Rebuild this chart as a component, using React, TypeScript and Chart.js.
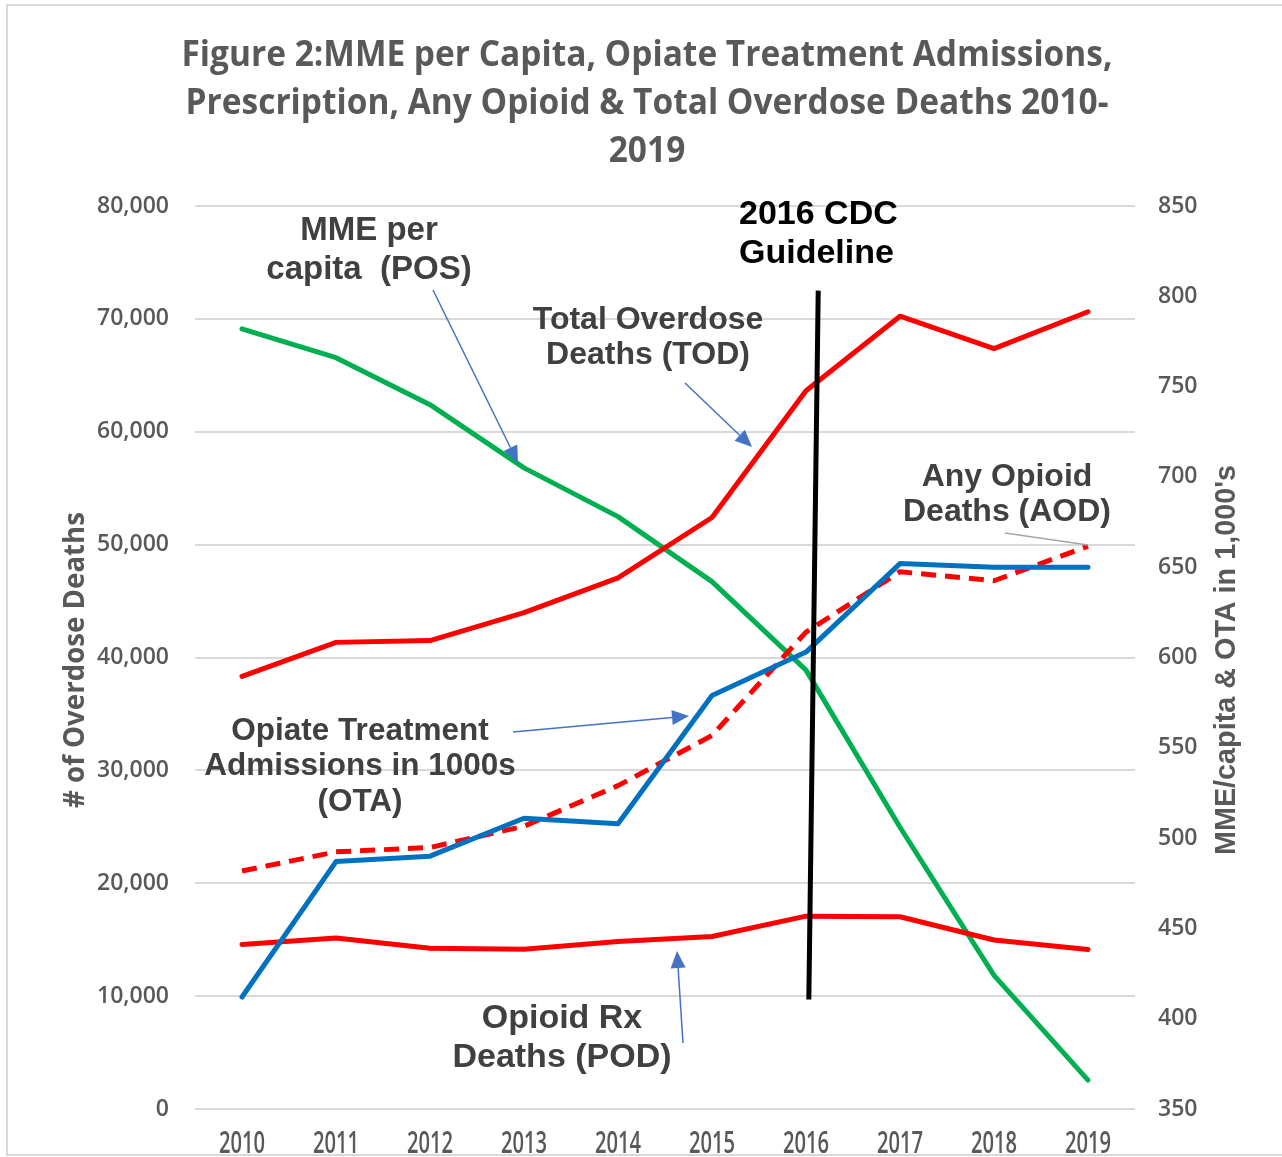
import React, { useEffect, useRef } from "react";
import { Chart, registerables } from "chart.js";

Chart.register(...registerables);

// ---------- data ----------
const years = ["2010", "2011", "2012", "2013", "2014", "2015", "2016", "2017", "2018", "2019"];
const totalOverdoseDeaths = [38329, 41340, 41502, 43982, 47055, 52404, 63632, 70237, 67367, 70630];
const anyOpioidDeaths = [21089, 22784, 23166, 25052, 28647, 33091, 42249, 47600, 46802, 49860];
const rxOpioidDeaths = [14583, 15140, 14240, 14145, 14838, 15281, 17087, 17029, 14975, 14139];
const mmePerCapita = [782, 766, 740, 705, 678, 642, 593, 506, 424, 366];
const treatmentAdmissionsThousands = [412, 487, 490, 511, 508, 579, 603, 652, 650, 650];
const guidelineX = [6.13, 6.03];
const guidelineY = [72500, 9700];

const leftTicks = [0, 10000, 20000, 30000, 40000, 50000, 60000, 70000, 80000];
const rightTicks = [350, 400, 450, 500, 550, 600, 650, 700, 750, 800, 850];

const titleLines = [
  "Figure 2:MME per Capita, Opiate Treatment Admissions,",
  "Prescription, Any Opioid & Total Overdose Deaths 2010-",
  "2019",
];
const leftAxisTitle = "# of Overdose Deaths";
const rightAxisTitle = "MME/capita & OTA in 1,000's";

const labelMME = ["MME per", "capita  (POS)"];
const labelCDC = ["2016 CDC", "Guideline"];
const labelTOD = ["Total Overdose", "Deaths (TOD)"];
const labelAOD = ["Any Opioid", "Deaths (AOD)"];
const labelOTA = ["Opiate Treatment", "Admissions in 1000s", "(OTA)"];
const labelPOD = ["Opioid Rx", "Deaths (POD)"];

// ---------- helpers ----------
function drawText(
  ctx: CanvasRenderingContext2D,
  str: string,
  x: number,
  y: number,
  font: string,
  color: string,
  align: CanvasTextAlign,
  sx = 1
) {
  ctx.save();
  ctx.font = font;
  ctx.fillStyle = color;
  ctx.textBaseline = "alphabetic";
  ctx.textAlign = align;
  ctx.translate(x, y);
  ctx.scale(sx, 1);
  ctx.fillText(str, 0, 0);
  ctx.restore();
}

function drawArrow(
  ctx: CanvasRenderingContext2D,
  x1: number,
  y1: number,
  x2: number,
  y2: number,
  color: string,
  head = true
) {
  ctx.save();
  ctx.strokeStyle = color;
  ctx.fillStyle = color;
  ctx.lineWidth = 1.5;
  const ang = Math.atan2(y2 - y1, x2 - x1);
  const hl = head ? 17 : 0;
  const hw = 7.5;
  const bx = x2 - hl * Math.cos(ang);
  const by = y2 - hl * Math.sin(ang);
  ctx.beginPath();
  ctx.moveTo(x1, y1);
  ctx.lineTo(bx, by);
  ctx.stroke();
  if (head) {
    ctx.beginPath();
    ctx.moveTo(x2, y2);
    ctx.lineTo(bx + hw * Math.sin(ang), by - hw * Math.cos(ang));
    ctx.lineTo(bx - hw * Math.sin(ang), by + hw * Math.cos(ang));
    ctx.closePath();
    ctx.fill();
  }
  ctx.restore();
}

function drawRotated(
  ctx: CanvasRenderingContext2D,
  str: string,
  cx: number,
  cy: number,
  font: string,
  targetWidth: number
) {
  ctx.save();
  ctx.translate(cx, cy);
  ctx.rotate(-Math.PI / 2);
  ctx.font = font;
  const w = ctx.measureText(str).width;
  ctx.scale(targetWidth / w, 1);
  ctx.fillStyle = "#595959";
  ctx.textAlign = "center";
  ctx.textBaseline = "alphabetic";
  ctx.fillText(str, 0, 0);
  ctx.restore();
}

const overlayPlugin = {
  id: "overlay",
  beforeDraw(chart: any) {
    const ctx: CanvasRenderingContext2D = chart.ctx;
    ctx.save();
    ctx.fillStyle = "#ffffff";
    ctx.fillRect(0, 0, chart.width, chart.height);
    ctx.strokeStyle = "#d9d9d9";
    ctx.lineWidth = 2;
    ctx.beginPath();
    ctx.moveTo(chart.width, 5);
    ctx.lineTo(7, 5);
    ctx.lineTo(7, 1155);
    ctx.lineTo(chart.width, 1155);
    ctx.stroke();
    ctx.restore();
  },
  afterDraw(chart: any) {
    const ctx: CanvasRenderingContext2D = chart.ctx;

    // title
    const tFont = "bold 35px 'Open Sans'";
    ctx.save();
    ctx.font = tFont;
    const tsx = 931 / ctx.measureText(titleLines[0]).width;
    ctx.restore();
    const tBase = [66, 114, 162];
    titleLines.forEach((l, i) => drawText(ctx, l, 647, tBase[i], tFont, "#595959", "center", tsx));

    // x labels
    const xs = chart.scales.x;
    const yFont = "600 30px 'Open Sans'";
    ctx.save();
    ctx.font = yFont;
    const ysx = 46 / ctx.measureText("2010").width;
    ctx.restore();
    years.forEach((y, i) => {
      drawText(ctx, y, xs.getPixelForValue(i), 1153, yFont, "#595959", "center", ysx);
    });

    // axis titles
    drawRotated(ctx, leftAxisTitle, 84, 660, "bold 28px 'Open Sans'", 296);
    drawRotated(ctx, rightAxisTitle, 1235, 660, "bold 29px 'Liberation Sans'", 390);

    // annotations
    const bold = (s: number) => `bold ${s}px 'Liberation Sans'`;
    const dark = "#404040";
    drawText(ctx, labelMME[0], 369, 240, bold(33), dark, "center");
    drawText(ctx, labelMME[1], 369, 279, bold(33), dark, "center");
    drawText(ctx, labelCDC[0], 739, 224, bold(34), "#000000", "left");
    drawText(ctx, labelCDC[1], 739, 263, bold(34), "#000000", "left");
    drawText(ctx, labelTOD[0], 648, 329, bold(32), dark, "center");
    drawText(ctx, labelTOD[1], 648, 364, bold(32), dark, "center");
    drawText(ctx, labelAOD[0], 1007, 486, bold(32), dark, "center");
    drawText(ctx, labelAOD[1], 1007, 521, bold(32), dark, "center");
    drawText(ctx, labelOTA[0], 360, 740, bold(31.5), dark, "center");
    drawText(ctx, labelOTA[1], 360, 775, bold(31.5), dark, "center");
    drawText(ctx, labelOTA[2], 360, 811, bold(31.5), dark, "center");
    drawText(ctx, labelPOD[0], 562, 1028, bold(34), dark, "center");
    drawText(ctx, labelPOD[1], 562, 1067, bold(34), dark, "center");

    // arrows
    const blue = "#4472C4";
    drawArrow(ctx, 433, 290, 518, 463, blue);
    drawArrow(ctx, 685, 383, 752, 447, blue);
    drawArrow(ctx, 513, 732, 689, 716, blue);
    drawArrow(ctx, 683, 1043, 677, 951, blue);
    drawArrow(ctx, 1005, 533, 1088, 545, "#a6a6a6", false);
  },
};

export default function App() {
  const ref = useRef<HTMLCanvasElement | null>(null);

  useEffect(() => {
    if (!ref.current) return;
    const lineBase = {
      type: "line" as const,
      borderWidth: 5,
      pointRadius: 0,
      pointHoverRadius: 0,
      fill: false,
      tension: 0,
      borderJoinStyle: "round" as const,
      borderCapStyle: "round" as const,
    };
    const tickFont = { family: "'Open Sans'", size: 23, weight: "600" as const };
    const chart = new Chart(ref.current, {
      type: "line",
      data: {
        labels: years,
        datasets: [
          {
            ...lineBase,
            label: "2016 CDC Guideline",
            xAxisID: "x2",
            yAxisID: "y",
            data: guidelineX.map((x, i) => ({ x, y: guidelineY[i] })),
            borderColor: "#000000",
            borderCapStyle: "butt" as const,
            borderWidth: 5,
          } as any,
          {
            ...lineBase,
            label: "Total Overdose Deaths (TOD)",
            yAxisID: "y",
            data: totalOverdoseDeaths,
            borderColor: "#FF0000",
          },
          {
            ...lineBase,
            label: "Opiate Treatment Admissions (OTA)",
            yAxisID: "y1",
            data: treatmentAdmissionsThousands,
            borderColor: "#0070C0",
          },
          {
            ...lineBase,
            label: "Any Opioid Deaths (AOD)",
            yAxisID: "y",
            data: anyOpioidDeaths,
            borderColor: "#FF0000",
            borderDash: [15, 9],
            borderCapStyle: "butt" as const,
          },
          {
            ...lineBase,
            label: "Opioid Rx Deaths (POD)",
            yAxisID: "y",
            data: rxOpioidDeaths,
            borderColor: "#FF0000",
          },
          {
            ...lineBase,
            label: "MME per capita (POS)",
            yAxisID: "y1",
            data: mmePerCapita,
            borderColor: "#00B050",
          },
        ],
      },
      options: {
        responsive: false,
        animation: false,
        devicePixelRatio: 1,
        layout: { padding: { top: 206, bottom: 48, left: 0, right: 0 } },
        plugins: {
          legend: { display: false },
          tooltip: { enabled: false },
          title: { display: false },
        },
        events: [],
        scales: {
          x: {
            type: "category",
            display: false,
            offset: true,
          },
          x2: {
            type: "linear",
            display: false,
            min: -0.5,
            max: 9.5,
          },
          y: {
            type: "linear",
            position: "left",
            min: 0,
            max: 80000,
            afterBuildTicks: (s: any) => {
              s.ticks = leftTicks.map((v) => ({ value: v }));
            },
            afterFit: (s: any) => {
              s.width = 195;
            },
            grid: { color: "#d9d9d9", lineWidth: 2, drawTicks: false },
            border: { display: false },
            ticks: {
              padding: 26,
              color: "#595959",
              font: tickFont,
              callback: (v: any) => Number(v).toLocaleString("en-US"),
            },
          },
          y1: {
            type: "linear",
            position: "right",
            min: 350,
            max: 850,
            afterBuildTicks: (s: any) => {
              s.ticks = rightTicks.map((v) => ({ value: v }));
            },
            afterFit: (s: any) => {
              s.width = 147;
            },
            grid: { drawOnChartArea: false, drawTicks: false },
            border: { display: false },
            ticks: {
              padding: 23,
              color: "#595959",
              font: tickFont,
              callback: (v: any) => String(v),
            },
          },
        },
      },
      plugins: [overlayPlugin],
    });
    return () => chart.destroy();
  }, []);

  return (
    <div style={{ position: "absolute", left: 0, top: 0, width: 1282, height: 1157 }}>
      <canvas ref={ref} width={1282} height={1157} style={{ display: "block" }} />
    </div>
  );
}
